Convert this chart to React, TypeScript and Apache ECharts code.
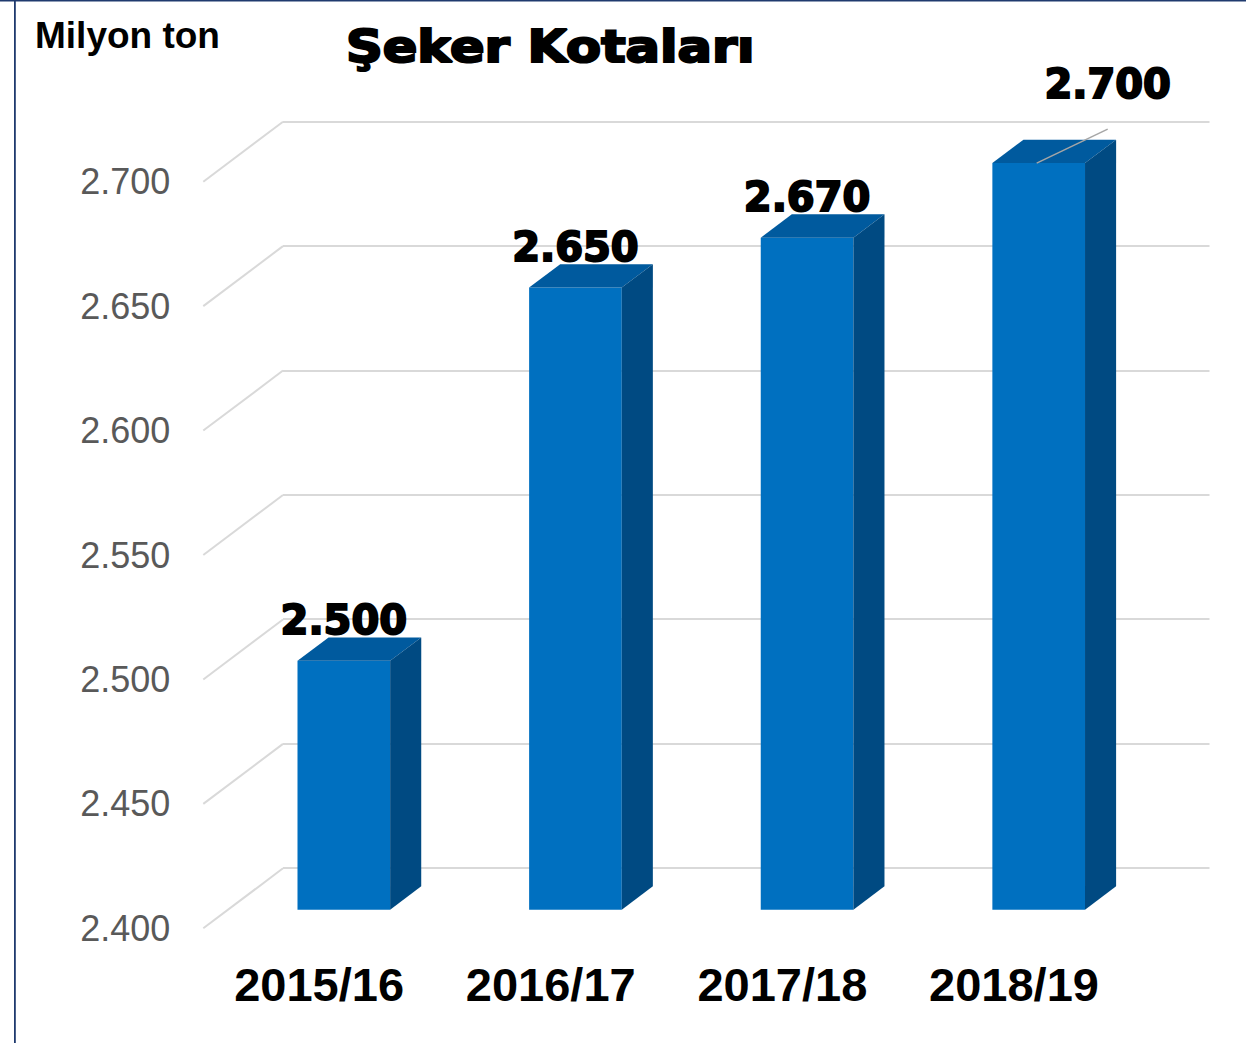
import React, { useEffect, useRef } from "react";
import * as echarts from "echarts";

const CATEGORIES = ["2015/16", "2016/17", "2017/18", "2018/19"];
const VALUES = [2500, 2650, 2670, 2700];
const Y_MIN = 2400;
const Y_MAX = 2700;
const Y_STEP = 50;
const Y_TICKS = [2400, 2450, 2500, 2550, 2600, 2650, 2700];
const TITLE = "Şeker Kotaları";
const UNIT = "Milyon ton";

const fmt = (v: number) =>
  Math.floor(v / 1000) + "." + String(Math.round(v % 1000)).padStart(3, "0");

// 3D geometry (pixels)
const DEPTH_X = 79.7;
const DEPTH_Y = -60;
const BAR_FRONT = 0.31;
const BAR_DEPTH = 0.39;
const BAR_WIDTH_RATIO = 0.4;
const LEADER = { index: 3, dx: 69, dy: -34, labelGap: 45 };

export default function App() {
  const ref = useRef<HTMLDivElement>(null);

  useEffect(() => {
    if (!ref.current) return;
    const chart = echarts.init(ref.current, undefined, { renderer: "svg" });

    const option: any = {
      animation: false,
      backgroundColor: "#ffffff",
      grid: [
        { left: 203.3, right: 116.2, top: 181.7, bottom: 114.7 },
        { left: 283, right: 36.5, top: 121.7, bottom: 175.3 },
      ],
      xAxis: [
        {
          type: "category",
          gridIndex: 0,
          data: CATEGORIES,
          axisLine: { show: false },
          axisTick: { show: false },
          axisLabel: {
            margin: 33,
            fontSize: 47,
            fontWeight: "bold",
            color: "#000000",
            fontFamily: "Liberation Sans, Arial, sans-serif",
          },
        },
        { type: "value", gridIndex: 1, show: false, min: 0, max: 1 },
      ],
      yAxis: [
        {
          type: "value",
          gridIndex: 0,
          min: Y_MIN,
          max: Y_MAX,
          interval: Y_STEP,
          axisLine: { show: false },
          axisTick: { show: false },
          splitLine: { show: false },
          axisLabel: {
            margin: 33,
            fontSize: 36,
            color: "#595959",
            fontFamily: "Liberation Sans, Arial, sans-serif",
            formatter: (v: number) => fmt(v),
          },
        },
        {
          type: "value",
          gridIndex: 1,
          min: Y_MIN,
          max: Y_MAX,
          interval: Y_STEP,
          axisLine: { show: false },
          axisTick: { show: false },
          axisLabel: { show: false },
          splitLine: { show: true, lineStyle: { color: "#d9d9d9", width: 2 } },
        },
      ],
      graphic: [
        { type: "rect", shape: { x: 0, y: 0, width: 1246, height: 1.5 }, style: { fill: "#1f3a6e" } },
        { type: "rect", shape: { x: 14, y: 0, width: 1.8, height: 1043 }, style: { fill: "#1f3a6e" } },
        {
          type: "text",
          x: 35,
          y: 35,
          style: {
            text: UNIT,
            fontSize: 37,
            fontWeight: "bold",
            fontFamily: "Liberation Sans, Arial, sans-serif",
            fill: "#000000",
            align: "left",
            verticalAlign: "middle",
          },
        },
        {
          type: "text",
          x: 346,
          y: 47,
          scaleX: 1.16,
          style: {
            text: TITLE,
            fontSize: 44,
            fontWeight: "bold",
            fontFamily: "DejaVu Sans, sans-serif",
            fill: "#000000",
            stroke: "#000000",
            lineWidth: 2.2,
            align: "left",
            verticalAlign: "middle",
          },
        },
      ],
      series: [
        {
          type: "custom",
          xAxisIndex: 0,
          yAxisIndex: 0,
          clip: false,
          silent: true,
          data: Y_TICKS.map((v) => [0, v]),
          encode: { x: 0, y: 1 },
          renderItem: (params: any, api: any) => {
            const v = api.value(1);
            const y = api.coord([0, v])[1];
            const x = params.coordSys.x;
            return {
              type: "line",
              shape: { x1: x, y1: y, x2: x + DEPTH_X, y2: y + DEPTH_Y },
              style: { stroke: "#d9d9d9", lineWidth: 2 },
            };
          },
        },
        {
          type: "custom",
          xAxisIndex: 0,
          yAxisIndex: 0,
          clip: false,
          data: VALUES.map((v, i) => [i, v]),
          encode: { x: 0, y: 1 },
          renderItem: (params: any, api: any) => {
            const i = api.value(0);
            const v = api.value(1);
            const [cx, yTop] = api.coord([i, v]);
            const yBase = api.coord([i, Y_MIN])[1];
            const band = api.size([1, 0])[0];
            const w = band * BAR_WIDTH_RATIO;
            const sx = DEPTH_X * BAR_FRONT;
            const sy = DEPTH_Y * BAR_FRONT;
            const dx = DEPTH_X * BAR_DEPTH;
            const dy = DEPTH_Y * BAR_DEPTH;
            const x0 = cx + sx - w / 2;
            const x1 = x0 + w;
            const yt = yTop + sy;
            const yb = yBase + sy;
            const mid = (x0 + x1) / 2;
            const children: any[] = [
              {
                type: "polygon",
                shape: { points: [[x0, yt], [x1, yt], [x1, yb], [x0, yb]] },
                style: { fill: "#0070c0" },
              },
              {
                type: "polygon",
                shape: { points: [[x0, yt], [x1, yt], [x1 + dx, yt + dy], [x0 + dx, yt + dy]] },
                style: { fill: "#005a9e" },
              },
              {
                type: "polygon",
                shape: { points: [[x1, yt], [x1 + dx, yt + dy], [x1 + dx, yb + dy], [x1, yb]] },
                style: { fill: "#004a82" },
              },
            ];
            let lx = mid;
            let ly = yt + dy - 17;
            if (params.dataIndex === LEADER.index) {
              const sxl = mid - 2;
              const ex = mid + LEADER.dx;
              const ey = yt + LEADER.dy;
              children.push({
                type: "line",
                shape: { x1: sxl, y1: yt, x2: ex, y2: ey },
                style: { stroke: "#a6a6a6", lineWidth: 1.5 },
              });
              lx = ex;
              ly = ey - LEADER.labelGap;
            }
            children.push({
              type: "text",
              style: {
                text: fmt(v),
                x: lx,
                y: ly,
                align: "center",
                verticalAlign: "middle",
                fontSize: 40,
                fontWeight: "bold",
                fontFamily: "DejaVu Sans, sans-serif",
                fill: "#000000",
                stroke: "#000000",
                lineWidth: 2,
              },
            });
            return { type: "group", children };
          },
        },
      ],
    };

    chart.setOption(option);
    return () => chart.dispose();
  }, []);

  return (
    <div
      ref={ref}
      style={{ position: "absolute", left: 0, top: 0, width: 1246, height: 1043, background: "#fff" }}
    />
  );
}
